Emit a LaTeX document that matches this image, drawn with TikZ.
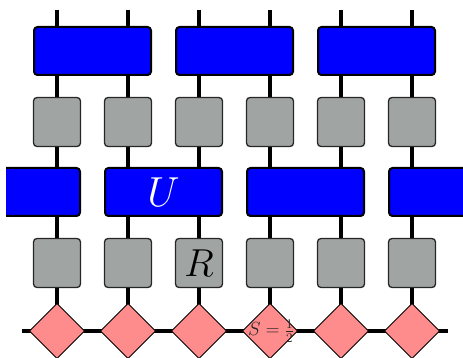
\documentclass[tikz,border=0pt]{standalone}
\usepackage{fix-cm}
\usetikzlibrary{shapes.geometric,backgrounds}
\definecolor{ublue}{RGB}{0,0,255}
\definecolor{rgray}{RGB}{160,165,164}
\definecolor{spink}{RGB}{255,140,140}
\begin{document}
\begin{tikzpicture}[x=1pt,y=-1pt,
  ubox/.style={draw=black,line width=2pt,fill=ublue,rounded corners=3.5pt,minimum width=117pt,minimum height=48pt,inner sep=0pt,outer sep=0pt,text=white,font=\fontsize{42}{42}\selectfont},
  rbox/.style={draw=black!85,line width=1.3pt,fill=rgray,rounded corners=3.5pt,minimum width=47pt,minimum height=49pt,inner sep=0pt,outer sep=0pt,font=\fontsize{39}{39}\selectfont},
  sdia/.style={diamond,draw=black,line width=1pt,fill=spink,minimum width=55pt,minimum height=55pt,inner sep=0pt,outer sep=0pt},
  leg/.style={line width=4pt},
  bond/.style={line width=3.5pt}]
\useasboundingbox (0,0) rectangle (463,358);
\begin{scope}
\clip (6,0) rectangle (463,358);
% top unitaries
\node[ubox] (a1) at (92.5,51) {};
\node[ubox] (a2) at (234.5,51) {};
\node[ubox] (a3) at (376.5,51) {};
% first row of R
\foreach \i/\x in {1/57,2/128,3/199,4/270,5/341,6/412}{
  \node[rbox] (b\i) at (\x,122) {};
}
% middle unitaries
\node[ubox] (m1) at (21.5,192) {};
\node[ubox] (m2) at (163.5,192) {$U$};
\node[ubox] (m3) at (305.5,192) {};
\node[ubox] (m4) at (447.5,192) {};
% second row of R
\node[rbox] (c1) at (57,263) {};
\node[rbox] (c2) at (128,263) {};
\node[rbox] (c3) at (199,263) {$R$};
\node[rbox] (c4) at (270,263) {};
\node[rbox] (c5) at (341,263) {};
\node[rbox] (c6) at (412,263) {};
% diamonds
\foreach \i/\x in {1/57,2/128,3/199,4/270,5/341,6/412}{
  \node[sdia] (d\i) at (\x,331) {};
  \coordinate (t\i) at (\x,10);
}
\node[font=\fontsize{19}{19}\selectfont,inner sep=0pt,text=black!85] (s) at (271,331) {$S=\frac{1}{2}$};
\coordinate (bl) at (22,331);
\coordinate (br) at (448,331);
\end{scope}
\begin{pgfonlayer}{background}
\foreach \i in {1,...,6}{
  \draw[leg] (t\i) -- (d\i.center);
}
\draw[bond] (bl) -- (d1.center) -- (d2.center) -- (d3.center) -- (d4.center) -- (d5.center) -- (d6.center) -- (br);
\end{pgfonlayer}
\end{tikzpicture}
\end{document}
